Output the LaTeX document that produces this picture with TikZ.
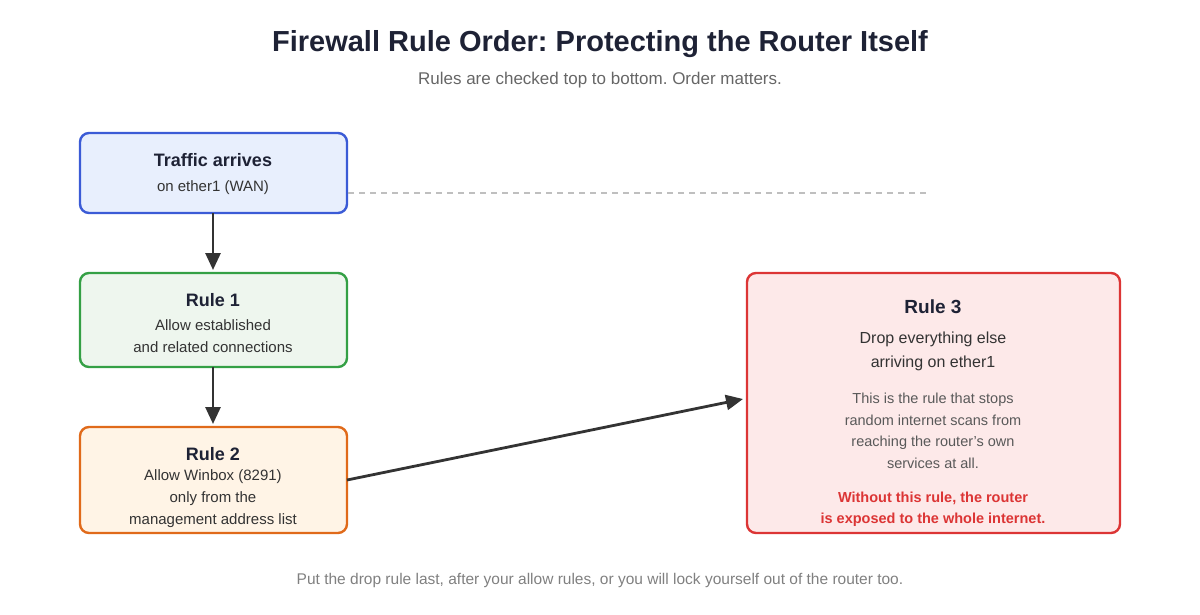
\documentclass[tikz,border=0pt]{standalone}
\usepackage{fontspec}
\setmainfont{Liberation Sans}
\usetikzlibrary{arrows.meta}
\definecolor{ttl}{HTML}{1E2235}
\definecolor{sub}{HTML}{666666}
\definecolor{bB}{HTML}{3B5BD6}\definecolor{fB}{HTML}{E8EFFD}
\definecolor{bG}{HTML}{34A045}\definecolor{fG}{HTML}{EEF6EE}
\definecolor{bO}{HTML}{E06A1A}\definecolor{fO}{HTML}{FFF4E6}
\definecolor{bR}{HTML}{DC3535}\definecolor{fR}{HTML}{FDE9E9}
\definecolor{txt}{HTML}{333333}
\frenchspacing
\begin{document}
\begin{tikzpicture}[x=1pt,y=-1pt,
 box/.style={draw,line width=2.4pt,rounded corners=9pt},
 arr/.style={-{Triangle[length=17pt,width=15pt]},line width=2.8pt,draw=txt},
 hd/.style={font=\fontsize{18}{20}\selectfont\bfseries,text=ttl},
 bd/.style={font=\fontsize{15}{22}\selectfont,text=txt,align=center}]
\useasboundingbox (0,0) rectangle (1200,614);
\node[font=\fontsize{29}{32}\selectfont\bfseries,text=ttl] (title) at (600,44) {Firewall Rule Order: Protecting the Router Itself};
\node[font=\fontsize{17}{20}\selectfont,text=sub] (subt) at (600,80) {Rules are checked top to bottom. Order matters.};
\draw[box,draw=bB,fill=fB] (80,133) rectangle (347,213);
\node[hd] (th) at (213,160) {Traffic arrives};
\node[bd] (tt) at (213,188) {on ether1 (WAN)};
\coordinate (de) at (930,193); \coordinate (ds) at (348,193);
\draw[draw=black!25,line width=1.5pt,dash pattern=on 6pt off 5pt] (ds) -- (de);
\draw[box,draw=bG,fill=fG] (80,273) rectangle (347,367);
\node[hd] (r1h) at (213,300) {Rule 1};
\node[bd] (r1t) at (213,336) {Allow established\\and related connections};
\draw[box,draw=bO,fill=fO] (80,427) rectangle (347,533);
\node[hd] (r2h) at (213,454) {Rule 2};
\node[bd] (r2t) at (213,499) {Allow Winbox (8291)\\only from the\\management address list};
\draw[box,draw=bR,fill=fR] (747,273) rectangle (1120,533);
\node[hd,font=\fontsize{19}{22}\selectfont\bfseries] (r3h) at (933,307) {Rule 3};
\node[bd,font=\fontsize{16}{24}\selectfont] (r3a) at (933,351) {Drop everything else\\arriving on ether1};
\node[bd,font=\fontsize{14.5}{21.5}\selectfont,text=black!65] (r3b) at (933,431) {This is the rule that stops\\random internet scans from\\reaching the router's own\\services at all.};
\node[bd,font=\fontsize{14.5}{21.5}\selectfont\bfseries,text=bR] (r3c) at (933,509) {Without this rule, the router\\is exposed to the whole internet.};
\coordinate (a1s) at (213,213); \coordinate (a1e) at (213,270);
\coordinate (a2s) at (213,367); \coordinate (a2e) at (213,424);
\coordinate (a3s) at (347,480); \coordinate (a3e) at (743,399);
\draw[arr] (a1s) -- (a1e);
\draw[arr] (a2s) -- (a2e);
\draw[arr] (a3s) -- (a3e);
\node[font=\fontsize{15.5}{18}\selectfont,text=black!50] (foot) at (600,580) {Put the drop rule last, after your allow rules, or you will lock yourself out of the router too.};
\end{tikzpicture}
\end{document}
